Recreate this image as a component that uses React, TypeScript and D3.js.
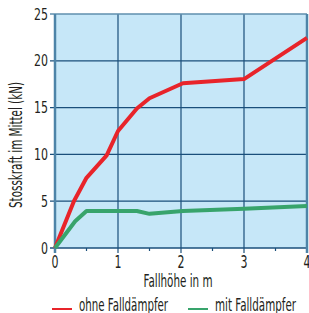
import * as d3 from "d3";

// Fallhöhe (m) -> Stosskraft (kN)
const ohneX = [0, 0.3, 0.5, 0.82, 1, 1.3, 1.5, 2.03, 3, 4];
const ohneY = [0, 5, 7.5, 9.9, 12.5, 14.9, 16, 17.6, 18.05, 22.45];
const mitX = [0, 0.32, 0.5, 1.3, 1.5, 2.03, 3, 4];
const mitY = [0, 2.85, 3.95, 3.95, 3.65, 3.95, 4.2, 4.5];
const xTicks = [0, 1, 2, 3, 4];
const xMinor = [0.5, 1.5, 2.5, 3.5];
const yTicks = [0, 5, 10, 15, 20, 25];
const seriesNames = ["ohne Falldämpfer", "mit Falldämpfer"];
const seriesColors = ["#e8242a", "#38a46c"];

const FONT = "'Liberation Sans Narrow', 'DejaVu Sans Condensed', 'Liberation Sans', sans-serif";

export default function App() {
  const width = 309;
  const height = 313;
  const left = 55, right = 307, top = 14, bottom = 248;

  const x = d3.scaleLinear().domain([0, 4]).range([left, right]);
  const y = d3.scaleLinear().domain([0, 25]).range([bottom, top]);

  const line = d3.line<[number, number]>()
    .x(d => x(d[0]))
    .y(d => y(d[1]));

  const ohne = ohneX.map((v, i) => [v, ohneY[i]] as [number, number]);
  const mit = mitX.map((v, i) => [v, mitY[i]] as [number, number]);

  return (
    <svg width={width} height={height}
      style={{ position: "absolute", left: 0, top: 0, background: "#fff" }}
      fontFamily={FONT}>
      {/* Hintergrund */}
      <rect x={left} y={top} width={right - left} height={bottom - top} fill="#c6e7f8" />

      {/* Gitter */}
      <g stroke="#1a4f7b" strokeWidth={1.2}>
        {yTicks.filter(t => t > 0 && t < 25).map(t => (
          <line key={"gy" + t} x1={left - 5} x2={right} y1={y(t)} y2={y(t)} />
        ))}
        {xTicks.filter(t => t > 0 && t < 4).map(t => (
          <line key={"gx" + t} x1={x(t)} x2={x(t)} y1={top} y2={bottom + 5} />
        ))}
        {xMinor.map(t => (
          <line key={"mx" + t} x1={x(t)} x2={x(t)} y1={bottom} y2={bottom + 3} />
        ))}
      </g>

      {/* Rahmen */}
      <line x1={left} x2={right} y1={top} y2={top} stroke="#5f8fae" strokeWidth={1.5} />
      <line x1={left - 5} x2={left} y1={top} y2={top} stroke="#5f8fae" strokeWidth={1.5} />
      <line x1={left - 5} x2={right} y1={bottom} y2={bottom} stroke="#1a4f7b" strokeWidth={1.5} />
      <line x1={left} x2={left} y1={top} y2={bottom + 5} stroke="#4d84a8" strokeWidth={2.5} />
      <line x1={right} x2={right} y1={top} y2={bottom + 5} stroke="#4d84a8" strokeWidth={2.5} />

      {/* Kurven */}
      <path d={line(ohne) ?? ""} fill="none" stroke={seriesColors[0]} strokeWidth={4} strokeLinejoin="round" />
      <path d={line(mit) ?? ""} fill="none" stroke={seriesColors[1]} strokeWidth={4} strokeLinejoin="round" />

      {/* Achsenbeschriftung */}
      <g fill="#231f20" fontSize={16} textAnchor="end">
        {yTicks.map(t => (
          <text key={"yl" + t} x={left - 7} y={y(t) + 5.5}
            textLength={t >= 10 ? 14 : 7} lengthAdjust="spacingAndGlyphs">{t}</text>
        ))}
      </g>
      <g fill="#231f20" fontSize={18} textAnchor="middle">
        {xTicks.map(t => (
          <text key={"xl" + t} x={x(t)} y={bottom + 20}
            textLength={7} lengthAdjust="spacingAndGlyphs">{t}</text>
        ))}
      </g>
      <text x={178} y={287} fontSize={18} textAnchor="middle" fill="#231f20"
        textLength={69} lengthAdjust="spacingAndGlyphs">Fallhöhe in m</text>
      <text transform={`translate(22,145) rotate(-90)`} fontSize={17} textAnchor="middle" fill="#231f20"
        textLength={126} lengthAdjust="spacingAndGlyphs">Stosskraft im Mittel (kN)</text>

      {/* Legende */}
      <line x1={52} x2={72} y1={309} y2={309} stroke={seriesColors[0]} strokeWidth={2} />
      <text x={79} y={311} fontSize={18} fill="#231f20"
        textLength={89} lengthAdjust="spacingAndGlyphs">{seriesNames[0]}</text>
      <line x1={188} x2={208} y1={309} y2={309} stroke={seriesColors[1]} strokeWidth={2} />
      <text x={215} y={311} fontSize={18} fill="#231f20"
        textLength={81} lengthAdjust="spacingAndGlyphs">{seriesNames[1]}</text>
    </svg>
  );
}
